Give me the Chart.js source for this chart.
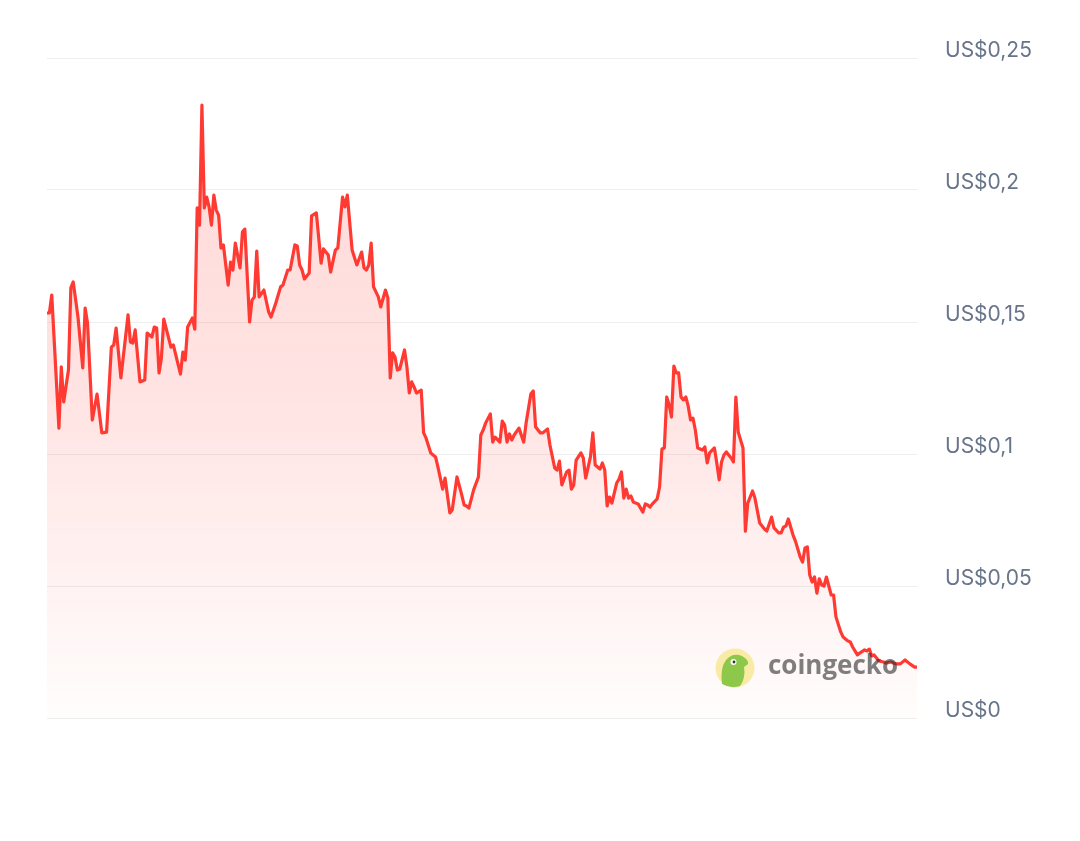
<!DOCTYPE html>
<html>
<head>
<meta charset="utf-8">
<script src="https://cdn.jsdelivr.net/npm/chart.js@4.4.1/dist/chart.umd.min.js"></script>
<style>
  html, body { margin: 0; padding: 0; background: #fff; }
  #wrap { position: relative; width: 1080px; height: 841px; }
</style>
</head>
<body>
<div id="wrap"><canvas id="canvas"></canvas></div>
<script>
// day offsets (0..365) and price in USD
const days = [
  0, 1, 2, 5, 6, 7, 9, 10, 11, 13, 15, 16, 17, 19, 21, 23, 25, 27, 28, 29,
  31, 34, 35, 36, 37, 39, 41, 42, 44, 45, 46, 47, 48, 49, 52, 53, 56, 57, 58, 59,
  61, 62, 63, 64, 65, 66, 67, 68, 69, 70, 71, 72, 73, 74, 76, 77, 78, 79, 81, 82,
  83, 85, 86, 87, 88, 89, 91, 93, 94, 96, 98, 99, 101, 102, 104, 105, 106, 107, 108, 110,
  111, 113, 115, 116, 118, 119, 121, 122, 124, 125, 126, 128, 130, 132, 133, 134, 135, 136, 137, 139,
  140, 142, 143, 144, 145, 146, 147, 148, 150, 151, 152, 153, 154, 155, 157, 158, 159, 161, 163, 164,
  166, 167, 169, 170, 172, 174, 175, 176, 177, 179, 181, 182, 183, 184, 186, 187, 188, 190, 191, 192,
  193, 194, 195, 196, 198, 200, 201, 203, 204, 205, 207, 208, 210, 211, 213, 214, 215, 216, 218, 219,
  220, 221, 222, 224, 225, 226, 228, 229, 230, 232, 233, 234, 235, 236, 237, 239, 240, 241, 242, 243,
  244, 245, 246, 247, 248, 250, 251, 252, 253, 254, 256, 257, 258, 259, 260, 261, 262, 263, 264, 265,
  266, 267, 268, 269, 270, 271, 272, 273, 275, 276, 277, 278, 280, 281, 282, 283, 284, 285, 287, 288,
  289, 290, 291, 292, 293, 294, 296, 297, 299, 301, 302, 304, 305, 307, 308, 309, 310, 311, 313, 314,
  316, 317, 318, 319, 320, 321, 322, 323, 324, 325, 326, 327, 329, 330, 331, 333, 334, 336, 337, 338,
  340, 341, 343, 344, 345, 346, 347, 349, 351, 352, 354, 356, 358, 360, 362, 364, 365
];
const prices = [
  0.1534, 0.1534, 0.1602, 0.1098, 0.1330, 0.1197, 0.1318, 0.1629, 0.1652, 0.1519,
  0.1326, 0.1553, 0.1496, 0.1129, 0.1227, 0.1080, 0.1083, 0.1405, 0.1413, 0.1477,
  0.1288, 0.1527, 0.1424, 0.1420, 0.1470, 0.1273, 0.1280, 0.1458, 0.1443, 0.1481,
  0.1477, 0.1307, 0.1364, 0.1511, 0.1405, 0.1413, 0.1303, 0.1386, 0.1356, 0.1481,
  0.1515, 0.1473, 0.1932, 0.1867, 0.2322, 0.1932, 0.1973, 0.1936, 0.1867, 0.1981,
  0.1924, 0.1905, 0.1780, 0.1792, 0.1640, 0.1727, 0.1697, 0.1799, 0.1705, 0.1841,
  0.1852, 0.1500, 0.1583, 0.1595, 0.1769, 0.1595, 0.1621, 0.1538, 0.1519, 0.1572,
  0.1633, 0.1640, 0.1697, 0.1697, 0.1792, 0.1788, 0.1716, 0.1697, 0.1663, 0.1686,
  0.1902, 0.1913, 0.1723, 0.1777, 0.1754, 0.1689, 0.1773, 0.1780, 0.1973, 0.1936,
  0.1981, 0.1773, 0.1716, 0.1765, 0.1705, 0.1697, 0.1716, 0.1799, 0.1633, 0.1595,
  0.1557, 0.1621, 0.1591, 0.1288, 0.1383, 0.1367, 0.1318, 0.1322, 0.1394, 0.1330,
  0.1231, 0.1273, 0.1254, 0.1231, 0.1242, 0.1080, 0.1061, 0.1004, 0.0989, 0.0951,
  0.0867, 0.0909, 0.0777, 0.0788, 0.0913, 0.0845, 0.0807, 0.0803, 0.0795, 0.0864,
  0.0913, 0.1072, 0.1091, 0.1117, 0.1152, 0.1045, 0.1064, 0.1045, 0.1125, 0.1110,
  0.1045, 0.1076, 0.1053, 0.1072, 0.1098, 0.1045, 0.1117, 0.1227, 0.1239, 0.1102,
  0.1080, 0.1080, 0.1095, 0.1034, 0.0947, 0.0939, 0.0973, 0.0883, 0.0932, 0.0939,
  0.0867, 0.0883, 0.0977, 0.1004, 0.0985, 0.0909, 0.0989, 0.1080, 0.0958, 0.0943,
  0.0966, 0.0939, 0.0803, 0.0837, 0.0814, 0.0890, 0.0905, 0.0932, 0.0833, 0.0867,
  0.0833, 0.0841, 0.0818, 0.0814, 0.0811, 0.0780, 0.0811, 0.0807, 0.0799, 0.0811,
  0.0830, 0.0875, 0.1019, 0.1023, 0.1216, 0.1186, 0.1140, 0.1333, 0.1307, 0.1307,
  0.1216, 0.1205, 0.1216, 0.1182, 0.1129, 0.1136, 0.1091, 0.1023, 0.1015, 0.1027,
  0.0966, 0.1004, 0.1023, 0.0966, 0.0902, 0.0970, 0.0996, 0.1008, 0.0985, 0.0970,
  0.1216, 0.1083, 0.1053, 0.1023, 0.0708, 0.0814, 0.0860, 0.0833, 0.0739, 0.0716,
  0.0708, 0.0761, 0.0720, 0.0701, 0.0701, 0.0723, 0.0727, 0.0754, 0.0693, 0.0670,
  0.0610, 0.0591, 0.0644, 0.0648, 0.0542, 0.0515, 0.0534, 0.0473, 0.0527, 0.0504,
  0.0500, 0.0534, 0.0466, 0.0466, 0.0383, 0.0326, 0.0307, 0.0292, 0.0288, 0.0269,
  0.0239, 0.0246, 0.0258, 0.0254, 0.0261, 0.0235, 0.0239, 0.0216, 0.0212, 0.0208,
  0.0212, 0.0205, 0.0205, 0.0220, 0.0205, 0.0193, 0.0193
];
const yTicks = [0, 0.05, 0.1, 0.15, 0.2, 0.25];
const tickLabels = ['US$0', 'US$0,05', 'US$0,1', 'US$0,15', 'US$0,2', 'US$0,25'];

const lineColor = '#ff3a33';
Chart.defaults.font.family = 'Inter, "Noto Sans", sans-serif';

const points = days.map((d, i) => ({ x: d, y: prices[i] }));

// coingecko watermark, drawn on top of the line
const watermark = {
  id: 'watermark',
  afterDatasetsDraw(chart) {
    const ctx = chart.ctx;
    ctx.save();
    // logo
    ctx.fillStyle = '#f9eba5';
    ctx.beginPath();
    ctx.arc(735, 668, 19.5, 0, Math.PI * 2);
    ctx.fill();
    ctx.fillStyle = '#8dc84a';
    ctx.beginPath();
    ctx.moveTo(722, 684);
    ctx.quadraticCurveTo(720, 668, 726, 660);
    ctx.quadraticCurveTo(733, 652, 742, 656);
    ctx.quadraticCurveTo(749, 660, 748, 664);
    ctx.lineTo(744, 667);
    ctx.quadraticCurveTo(746, 678, 740, 686);
    ctx.quadraticCurveTo(731, 689, 722, 684);
    ctx.fill();
    ctx.fillStyle = '#fff';
    ctx.beginPath();
    ctx.arc(733.5, 662, 3, 0, Math.PI * 2);
    ctx.fill();
    ctx.fillStyle = '#333';
    ctx.beginPath();
    ctx.arc(734, 662, 1.4, 0, Math.PI * 2);
    ctx.fill();
    // text
    ctx.font = 'bold 26px "Open Sans", sans-serif';
    ctx.fillStyle = 'rgba(50,50,50,0.62)';
    ctx.textBaseline = 'alphabetic';
    const w = ctx.measureText('coingecko').width;
    ctx.translate(768, 674);
    ctx.scale(130 / w, 1);
    ctx.fillText('coingecko', 0, 0);
    ctx.restore();
  }
};

new Chart(document.getElementById('canvas'), {
  type: 'line',
  data: {
    datasets: [{
      data: points,
      borderColor: lineColor,
      borderWidth: 3.2,
      borderJoinStyle: 'round',
      pointRadius: 0,
      tension: 0,
      fill: 'origin',
      backgroundColor(context) {
        const area = context.chart.chartArea;
        if (!area) return 'rgba(255,58,51,0.15)';
        const g = context.chart.ctx.createLinearGradient(0, area.top, 0, area.bottom);
        g.addColorStop(0, 'rgba(255,58,51,0.2)');
        g.addColorStop(0.5, 'rgba(255,58,51,0.14)');
        g.addColorStop(1, 'rgba(255,58,51,0.01)');
        return g;
      }
    }]
  },
  options: {
    responsive: true,
    maintainAspectRatio: false,
    animation: false,
    layout: { padding: { left: 47, top: 58, bottom: 123, right: 0 } },
    plugins: { legend: { display: false }, tooltip: { enabled: false } },
    scales: {
      x: { type: 'linear', min: 0, max: 365, display: false },
      y: {
        position: 'right',
        min: 0,
        max: 0.25,
        afterFit(scale) { scale.width = 163; },
        afterBuildTicks(scale) { scale.ticks = yTicks.map(v => ({ value: v })); },
        grid: { color: '#eeeeee', lineWidth: 1, drawTicks: false },
        border: { display: false },
        ticks: {
          padding: 28,
          labelOffset: -7,
          color: '#67748a',
          font: { size: 21 },
          callback(value) {
            const i = yTicks.findIndex(t => Math.abs(t - value) < 1e-9);
            return i >= 0 ? tickLabels[i] : '';
          }
        }
      }
    }
  },
  plugins: [watermark]
});
</script>
</body>
</html>
